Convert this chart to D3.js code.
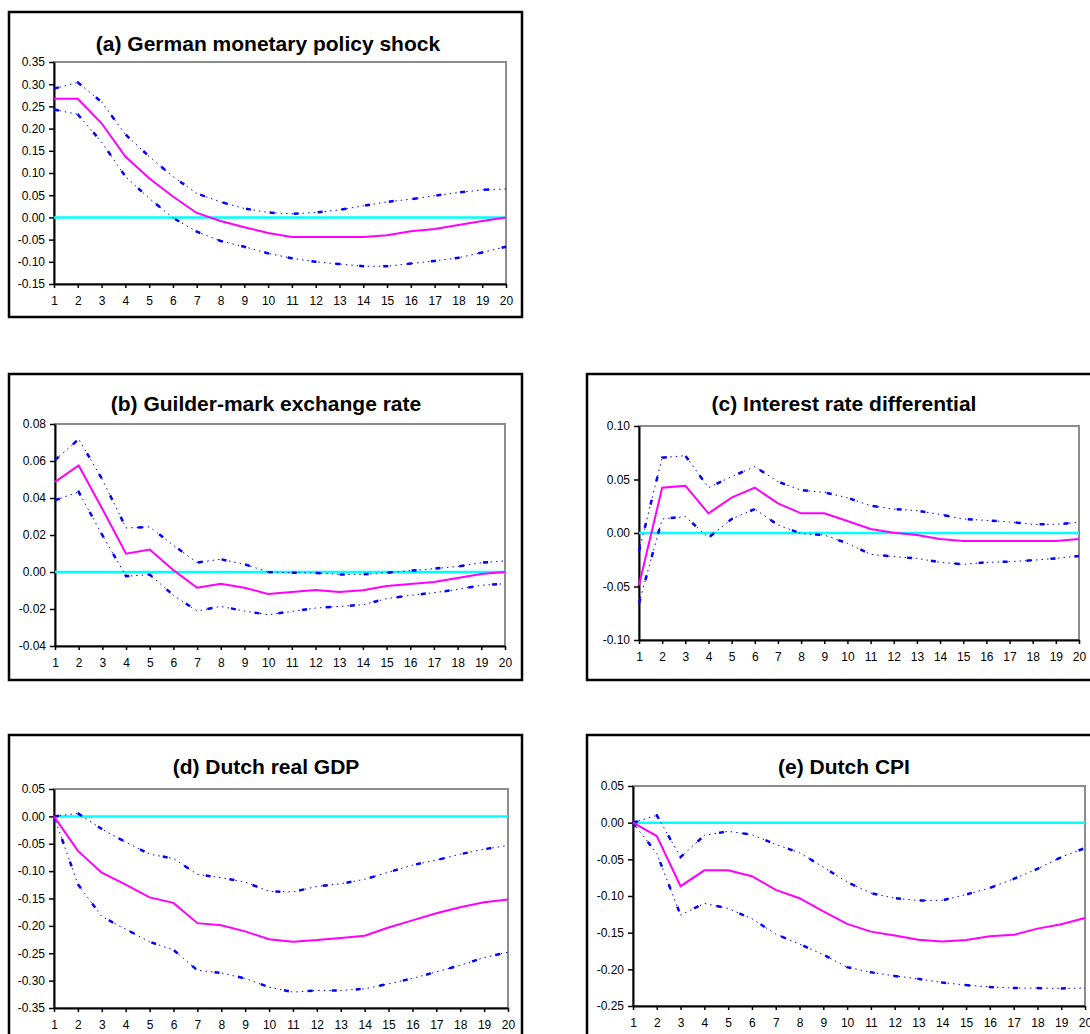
<!DOCTYPE html>
<html>
<head>
<meta charset="utf-8">
<script src="https://cdn.jsdelivr.net/npm/d3@7"></script>
<style>
  body { margin: 0; background: #fff; }
  svg { display: block; font-family: Arial, 'Liberation Sans', sans-serif; }
</style>
</head>
<body>
<div id="chart"></div>
<script>
// horizon (periods after the shock)
const periods = [1, 2, 3, 4, 5, 6, 7, 8, 9, 10, 11, 12, 13, 14, 15, 16, 17, 18, 19, 20];

const titles = [
    '(a) German monetary policy shock',
    '(b) Guilder-mark exchange rate',
    '(c) Interest rate differential',
    '(d) Dutch real GDP',
    '(e) Dutch CPI'
];

// (a) German monetary policy shock
const aMid = [0.267, 0.267, 0.212, 0.137, 0.088, 0.047, 0.010, -0.008, -0.022, -0.035, -0.044, -0.044, -0.044, -0.044, -0.040, -0.031, -0.026, -0.017, -0.008, 0.000];
const aUpper = [0.290, 0.304, 0.260, 0.187, 0.137, 0.092, 0.054, 0.035, 0.020, 0.011, 0.008, 0.011, 0.017, 0.026, 0.035, 0.041, 0.049, 0.056, 0.062, 0.064];
const aLower = [0.243, 0.232, 0.170, 0.092, 0.043, -0.001, -0.032, -0.053, -0.066, -0.081, -0.092, -0.100, -0.105, -0.110, -0.110, -0.104, -0.098, -0.091, -0.079, -0.066];
const aTicks = [0.35, 0.30, 0.25, 0.20, 0.15, 0.10, 0.05, 0.00, -0.05, -0.10, -0.15];

// (b) Guilder-mark exchange rate
const bMid = [0.0487, 0.0576, 0.034, 0.0099, 0.0121, 0.001, -0.0085, -0.0063, -0.0085, -0.0119, -0.0108, -0.0097, -0.0108, -0.0099, -0.0076, -0.0065, -0.0054, -0.0032, -0.0011, 0.000];
const bUpper = [0.0605, 0.0718, 0.050, 0.0238, 0.0244, 0.0144, 0.0051, 0.0069, 0.0042, 0.000, -0.0004, -0.0005, -0.0013, -0.0013, -0.0004, 0.0007, 0.0018, 0.003, 0.005, 0.006];
const bLower = [0.0388, 0.0433, 0.0199, -0.0023, -0.0014, -0.0126, -0.0211, -0.0186, -0.0211, -0.0231, -0.0213, -0.0195, -0.0186, -0.0177, -0.0144, -0.0126, -0.0112, -0.0094, -0.0072, -0.0063];
const bTicks = [0.08, 0.06, 0.04, 0.02, 0.00, -0.02, -0.04];

// (c) Interest rate differential
const cMid = [-0.0486, 0.0424, 0.0442, 0.0184, 0.033, 0.0424, 0.0277, 0.0184, 0.0184, 0.0112, 0.0037, 0.0003, -0.0019, -0.0056, -0.0075, -0.0075, -0.0075, -0.0075, -0.0075, -0.0056];
const cUpper = [-0.017, 0.0704, 0.0723, 0.0424, 0.0527, 0.062, 0.048, 0.040, 0.038, 0.033, 0.0255, 0.0224, 0.0209, 0.0174, 0.0131, 0.0118, 0.0103, 0.0081, 0.0081, 0.010];
const cLower = [-0.0657, 0.0131, 0.0153, -0.0044, 0.0131, 0.0224, 0.0075, -0.0006, -0.0019, -0.0097, -0.0199, -0.0221, -0.0237, -0.0274, -0.0293, -0.0274, -0.0268, -0.0255, -0.0237, -0.0215];
const cTicks = [0.10, 0.05, 0.00, -0.05, -0.10];

// (d) Dutch real GDP
const dMid = [0.000, -0.063, -0.103, -0.1245, -0.148, -0.158, -0.195, -0.199, -0.210, -0.2245, -0.229, -0.226, -0.222, -0.218, -0.203, -0.190, -0.177, -0.166, -0.157, -0.152];
const dUpper = [0.000, 0.0055, -0.023, -0.047, -0.069, -0.077, -0.106, -0.112, -0.120, -0.137, -0.138, -0.128, -0.123, -0.115, -0.102, -0.089, -0.080, -0.069, -0.060, -0.053];
const dLower = [0.000, -0.124, -0.183, -0.206, -0.229, -0.244, -0.281, -0.286, -0.296, -0.312, -0.321, -0.318, -0.318, -0.315, -0.306, -0.296, -0.284, -0.272, -0.258, -0.248];
const dTicks = [0.05, 0.00, -0.05, -0.10, -0.15, -0.20, -0.25, -0.30, -0.35];

// (e) Dutch CPI
const eMid = [0.000, -0.0182, -0.0866, -0.065, -0.065, -0.073, -0.0916, -0.103, -0.121, -0.138, -0.1486, -0.154, -0.1595, -0.162, -0.160, -0.155, -0.153, -0.1445, -0.1386, -0.130];
const eUpper = [0.000, 0.010, -0.047, -0.0173, -0.0118, -0.0164, -0.0296, -0.041, -0.0606, -0.081, -0.096, -0.103, -0.106, -0.106, -0.098, -0.089, -0.0766, -0.063, -0.047, -0.0346];
const eLower = [0.000, -0.042, -0.126, -0.110, -0.117, -0.131, -0.152, -0.1655, -0.180, -0.197, -0.204, -0.209, -0.213, -0.218, -0.2215, -0.224, -0.2256, -0.2256, -0.226, -0.2256];
const eTicks = [0.05, 0.00, -0.05, -0.10, -0.15, -0.20, -0.25];

const zeroLine = [0, 0, 0, 0, 0, 0, 0, 0, 0, 0, 0, 0, 0, 0, 0, 0, 0, 0, 0, 0];

// layout of the five boxes (frame, plot area, title position)
const panels = [
    { title: titles[0], mid: aMid, upper: aUpper, lower: aLower, ticks: aTicks,
      frame: [9, 12, 513, 305], plot: [54, 62, 506, 284], tx: 268, ty: 51 },
    { title: titles[1], mid: bMid, upper: bUpper, lower: bLower, ticks: bTicks,
      frame: [9, 374, 513, 306], plot: [55, 424, 505, 646], tx: 266, ty: 411 },
    { title: titles[2], mid: cMid, upper: cUpper, lower: cLower, ticks: cTicks,
      frame: [587, 374, 520, 306], plot: [639, 426, 1079, 640], tx: 844, ty: 411 },
    { title: titles[3], mid: dMid, upper: dUpper, lower: dLower, ticks: dTicks,
      frame: [9, 735, 513, 320], plot: [54, 789, 508, 1008], tx: 266, ty: 774 },
    { title: titles[4], mid: eMid, upper: eUpper, lower: eLower, ticks: eTicks,
      frame: [587, 735, 520, 320], plot: [633, 786, 1085, 1006], tx: 844, ty: 774 }
];

const fmt = d3.formatLocale({ decimal: '.', thousands: ',', grouping: [3], currency: ['', ''], minus: '-' }).format('.2f');

const svg = d3.select('#chart').append('svg').attr('width', 1090).attr('height', 1034);

panels.forEach((p) => {
    const g = svg.append('g');
    const [l, t, r, b] = p.plot;

    g.append('rect')
        .attr('x', p.frame[0])
        .attr('y', p.frame[1])
        .attr('width', p.frame[2])
        .attr('height', p.frame[3])
        .attr('fill', '#fff')
        .attr('stroke', '#000')
        .attr('stroke-width', 2.5);

    g.append('text')
        .attr('x', p.tx)
        .attr('y', p.ty)
        .attr('text-anchor', 'middle')
        .style('font-size', '21px')
        .style('font-weight', 'bold')
        .text(p.title);

    const x = d3.scaleLinear().domain([1, 20]).range([l, r]);
    const y = d3.scaleLinear().domain([d3.min(p.ticks), d3.max(p.ticks)]).range([b, t]);

    // grey border of the plot area
    g.append('rect')
        .attr('x', l)
        .attr('y', t)
        .attr('width', r - l)
        .attr('height', b - t)
        .attr('fill', 'none')
        .attr('stroke', '#8c8c8c')
        .attr('stroke-width', 2);

    const yAxis = g.append('g')
        .attr('transform', `translate(${l},0)`)
        .call(d3.axisLeft(y).tickValues(p.ticks).tickFormat(fmt).tickSize(5).tickSizeOuter(0).tickPadding(4));
    const xAxis = g.append('g')
        .attr('transform', `translate(0,${b})`)
        .call(d3.axisBottom(x).tickValues(periods).tickFormat(d3.format('d')).tickSize(4).tickSizeOuter(0).tickPadding(8));

    [yAxis, xAxis].forEach((ax) => {
        ax.select('.domain').attr('stroke', '#000').attr('stroke-width', 2);
        ax.selectAll('.tick line').attr('stroke', '#000').attr('stroke-width', 1.5);
        ax.selectAll('.tick text').attr('fill', '#000').style('font-size', '12px').style('font-family', 'Arial, "Liberation Sans", sans-serif');
    });

    const line = d3.line()
        .x((d, i) => x(periods[i]))
        .y((d) => y(d));

    g.append('path')
        .datum(zeroLine)
        .attr('d', line)
        .attr('fill', 'none')
        .attr('stroke', '#00ffff')
        .attr('stroke-width', 2.5);

    [p.upper, p.lower].forEach((band) => {
        g.append('path')
            .datum(band)
            .attr('d', line)
            .attr('fill', 'none')
            .attr('stroke', '#0000ff')
            .attr('stroke-width', 1)
            .attr('stroke-dasharray', '1.5,4');
        g.append('path')
            .datum(band)
            .attr('d', line)
            .attr('fill', 'none')
            .attr('stroke', '#0000ff')
            .attr('stroke-width', 2.5)
            .attr('stroke-dasharray', '5,19');
    });

    g.append('path')
        .datum(p.mid)
        .attr('d', line)
        .attr('fill', 'none')
        .attr('stroke', '#ff00ff')
        .attr('stroke-width', 2);
});
</script>
</body>
</html>
